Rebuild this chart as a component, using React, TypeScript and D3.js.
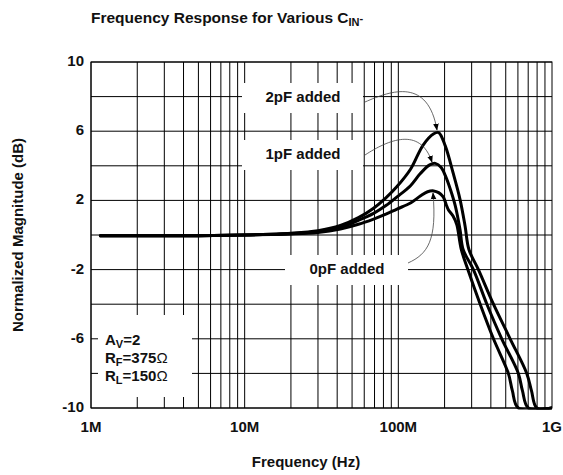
import React from "react";
import * as d3 from "d3";

const xTickValues = [1, 10, 100, 1000];
const xTickLabels = ["1M", "10M", "100M", "1G"];
const yTickValues = [10, 6, 2, -2, -6, -10];
const yTickLabels = ["10", "6", "2", "-2", "-6", "-10"];

const series0pF: [number, number][] = [
  [1.15, -0.05], [5, -0.04], [10, 0], [15, 0.03], [20, 0.06], [30, 0.15], [42, 0.35], [55, 0.62],
  [69, 0.92], [83, 1.2], [98, 1.5], [120, 1.85], [139, 2.25], [155, 2.5], [170, 2.55], [183, 2.45],
  [196, 2.2], [205, 1.75], [212, 1.45], [227, 1.1], [240, 0.6], [257, -0.84], [286, -2.1],
  [341, -4], [416, -6], [520, -8], [552, -9], [604, -10], [1000, -10],
];
const series1pF: [number, number][] = [
  [1.15, -0.05], [5, -0.04], [10, 0], [15, 0.04], [20, 0.08], [30, 0.2], [42, 0.45], [55, 0.85],
  [69, 1.25], [83, 1.7], [98, 2.2], [120, 2.85], [139, 3.55], [160, 4.05], [174, 4.14], [190, 3.9],
  [205, 3.3], [218, 2.64], [235, 1.67], [252, 0.32], [264, -0.84], [308, -2], [377, -4], [471, -6],
  [604, -8], [642, -9], [702, -10], [1000, -10],
];
const series2pF: [number, number][] = [
  [1.15, -0.05], [5, -0.04], [10, 0], [15, 0.05], [20, 0.1], [30, 0.25], [42, 0.55], [55, 1.0],
  [69, 1.55], [83, 2.15], [98, 2.8], [120, 3.8], [145, 5.2], [170, 5.85], [183, 5.92], [202, 5.15],
  [227, 3.6], [252, 2.06], [272, 0.51], [288, -0.84], [332, -2], [416, -4], [534, -6], [685, -8],
  [735, -9], [796, -10], [1000, -10],
];
const seriesList = [series0pF, series1pF, series2pF];

const labelTexts = ["2pF added", "1pF added", "0pF added"];

const W = 563;
const H = 475;
const L = 91, R = 552, T = 62, B = 408;

export default function App() {
  const x = d3.scaleLog().domain([1, 1000]).range([L, R]);
  const y = d3.scaleLinear().domain([-10, 10]).range([B, T]);

  const vGrid: number[] = [];
  for (let d = 1; d < 1000; d *= 10) {
    for (let k = 1; k <= 9; k++) vGrid.push(d * k);
  }
  const hGrid = d3.range(-10, 10.001, 2);

  const line = d3
    .line<[number, number]>()
    .x((d) => x(d[0]))
    .y((d) => y(d[1]))
    .curve(d3.curveCatmullRom.alpha(0.5));

  const font = "'Liberation Sans', Arial, Helvetica, sans-serif";
  const fs = 15;
  const sub = 11;

  const boxes = [
    { x0: 242, y0: 83, x1: 363, y1: 113 },
    { x0: 242, y0: 140, x1: 363, y1: 170 },
    { x0: 285, y0: 255, x1: 408, y1: 285 },
    { x0: 98, y0: 315, x1: 192, y1: 397 },
  ];

  const arrowPaths = [
    "M365,102 C392,90 428,78 437,130",
    "M365,155 C388,140 420,126 432,162",
    "M408,263 C428,254 437,240 433,193",
  ];

  return (
    <svg
      width={W}
      height={H}
      style={{ position: "absolute", left: 0, top: 0, background: "#fff" }}
      fontFamily={font}
    >
      <defs>
        <marker id="ah" viewBox="0 0 10 10" refX="9" refY="5" markerWidth="7" markerHeight="7" orient="auto" markerUnits="userSpaceOnUse">
          <path d="M0,1 L10,5 L0,9 Z" fill="#000" />
        </marker>
        <clipPath id="plotClip">
          <rect x={L} y={T} width={R - L} height={B - T + 1.5} />
        </clipPath>
      </defs>
      <rect x={0} y={0} width={W} height={H} fill="#fff" />
      <text x={91} y={23} fontSize={15.5} fontWeight="bold" fill="#111">
        Frequency Response for Various C
        <tspan fontSize={sub} dy={3}>IN</tspan>
        <tspan fontSize={sub} dy={-4}>-</tspan>
      </text>
      {vGrid.map((v, i) => (
        <line key={"v" + i} x1={x(v)} x2={x(v)} y1={T} y2={B} stroke="#000" strokeWidth={1} />
      ))}
      {hGrid.map((v, i) => (
        <line key={"h" + i} x1={L} x2={R} y1={y(v)} y2={y(v)} stroke="#000" strokeWidth={1} />
      ))}
      {boxes.map((b, i) => (
        <rect key={"b" + i} x={b.x0} y={b.y0} width={b.x1 - b.x0} height={b.y1 - b.y0} fill="#fff" />
      ))}
      <rect x={L} y={T} width={R - L} height={B - T} fill="none" stroke="#000" strokeWidth={1} />
      <g clipPath="url(#plotClip)">
        {seriesList.map((s, i) => (
          <path key={"s" + i} d={line(s) || ""} fill="none" stroke="#000" strokeWidth={3} strokeLinejoin="round" strokeLinecap="round" />
        ))}
      </g>
      {arrowPaths.map((p, i) => (
        <path key={"a" + i} d={p} fill="none" stroke="#444" strokeWidth={0.8} markerEnd="url(#ah)" />
      ))}
      <text x={303} y={98} fontSize={fs} fontWeight="bold" textAnchor="middle" dominantBaseline="middle" fill="#111">{labelTexts[0]}</text>
      <text x={303} y={155} fontSize={fs} fontWeight="bold" textAnchor="middle" dominantBaseline="middle" fill="#111">{labelTexts[1]}</text>
      <text x={347} y={270} fontSize={fs} fontWeight="bold" textAnchor="middle" dominantBaseline="middle" fill="#111">{labelTexts[2]}</text>
      <text x={105} y={345} fontSize={fs} fontWeight="bold" fill="#111">
        A<tspan fontSize={sub} dy={3}>V</tspan><tspan dy={-3}>=2</tspan>
      </text>
      <text x={105} y={363} fontSize={fs} fontWeight="bold" fill="#111">
        R<tspan fontSize={sub} dy={3}>F</tspan><tspan dy={-3}>=375</tspan><tspan fontWeight="normal">Ω</tspan>
      </text>
      <text x={105} y={381} fontSize={fs} fontWeight="bold" fill="#111">
        R<tspan fontSize={sub} dy={3}>L</tspan><tspan dy={-3}>=150</tspan><tspan fontWeight="normal">Ω</tspan>
      </text>
      {yTickValues.map((v, i) => (
        <text key={"yt" + i} x={84} y={y(v)} fontSize={fs} fontWeight="bold" textAnchor="end" dominantBaseline="middle" fill="#111">
          {yTickLabels[i]}
        </text>
      ))}
      {xTickValues.map((v, i) => (
        <text key={"xt" + i} x={x(v)} y={428} fontSize={fs} fontWeight="bold" textAnchor="middle" dominantBaseline="middle" fill="#111">
          {xTickLabels[i]}
        </text>
      ))}
      <text x={306} y={463} fontSize={fs} fontWeight="bold" textAnchor="middle" dominantBaseline="middle" fill="#111">
        Frequency (Hz)
      </text>
      <text transform={`translate(19,235) rotate(-90)`} fontSize={fs} fontWeight="bold" textAnchor="middle" dominantBaseline="middle" fill="#111">
        Normalized Magnitude (dB)
      </text>
    </svg>
  );
}
